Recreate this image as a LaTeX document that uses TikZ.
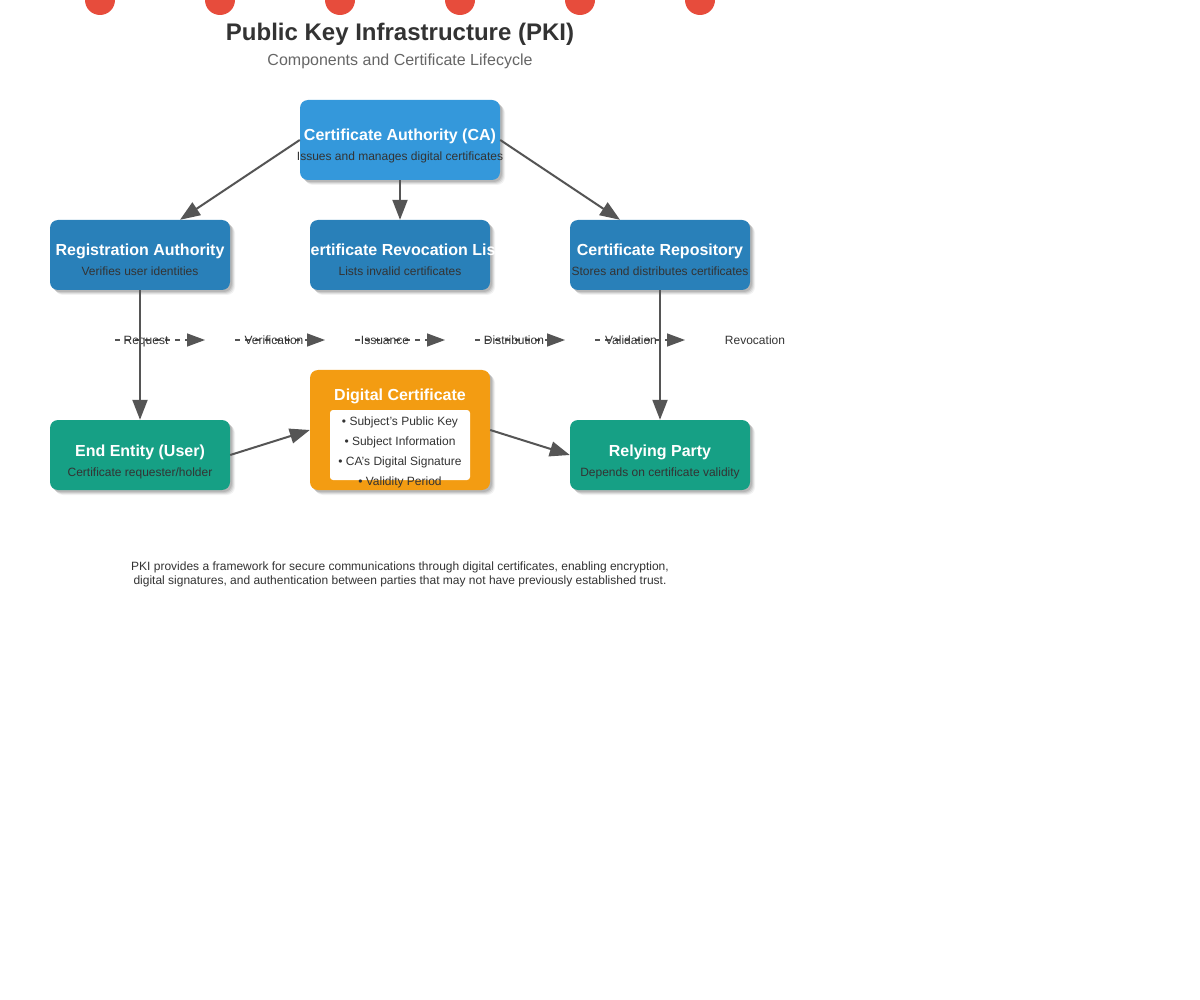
\documentclass[tikz,border=0pt]{standalone}
\usepackage{fontspec}
\setmainfont{Liberation Sans}
\usetikzlibrary{arrows.meta,shadows}
\definecolor{caBlue}{HTML}{3498DB}
\definecolor{compBlue}{HTML}{2980B9}
\definecolor{teal}{HTML}{16A085}
\definecolor{certOrange}{HTML}{F39C12}
\definecolor{dotRed}{HTML}{E74C3C}
\definecolor{arrowGray}{HTML}{555555}
\definecolor{darkText}{HTML}{333333}
\definecolor{midText}{HTML}{666666}
\begin{document}
\begin{tikzpicture}[x=1pt,y=-1pt,
  softshadow/.style={
    general shadow={shadow xshift=5pt, shadow yshift=-5pt, opacity=0.05, fill=black},
    general shadow={shadow xshift=4pt, shadow yshift=-4pt, opacity=0.07, fill=black},
    general shadow={shadow xshift=3pt, shadow yshift=-3pt, opacity=0.09, fill=black},
    general shadow={shadow xshift=2pt, shadow yshift=-2pt, opacity=0.10, fill=black}},
  box/.style={rounded corners=8pt, minimum width=180pt, minimum height=70pt, inner sep=0pt, softshadow},
  ttl/.style={font=\fontsize{16}{19}\selectfont\bfseries, text=white, anchor=base, inner sep=0pt},
  sub/.style={font=\fontsize{12}{14}\selectfont, text=darkText, anchor=base, inner sep=0pt},
  item/.style={font=\fontsize{12}{14}\selectfont, text=darkText, anchor=base, inner sep=0pt},
  lbl/.style={font=\fontsize{12}{14}\selectfont, text=darkText, anchor=base, inner sep=0pt},
  conn/.style={draw=arrowGray, line width=2pt, -{Triangle[length=20pt,width=15pt]}},
  life/.style={draw=arrowGray, line width=1.5pt, dash pattern=on 5pt off 5pt, -{Triangle[length=18pt,width=13pt]}},
  dot/.style={fill=dotRed, draw=none}]
\useasboundingbox (0,0) rectangle (1200,1000);
\fill[white] (0,0) rectangle (1200,1000);

% red dots
\foreach \i/\x in {1/100,2/220,3/340,4/460,5/580,6/700}{
  \fill[dot] (\x,0) circle (15pt);
}

% titles
\node[anchor=base, inner sep=0pt, font=\fontsize{24}{28}\selectfont\bfseries, text=darkText] (title) at (400,41) {Public Key Infrastructure (PKI)};
\node[anchor=base, inner sep=0pt, font=\fontsize{16}{19}\selectfont, text=midText] (subtitle) at (400,66) {Components and Certificate Lifecycle};

% boxes
\node[box, fill=caBlue, minimum width=200pt, minimum height=80pt] (ca) at (400,140) {};
\node[box, fill=compBlue] (ra) at (140,255) {};
\node[box, fill=compBlue] (crl) at (400,255) {};
\node[box, fill=compBlue] (repo) at (660,255) {};
\node[box, fill=teal] (ee) at (140,455) {};
\node[box, fill=certOrange, minimum height=120pt] (dc) at (400,430) {};
\node[box, fill=teal] (rp) at (660,455) {};
\node[fill=white, rounded corners=3pt, minimum width=140pt, minimum height=70pt, inner sep=0pt] (dcinner) at (400,445) {};

% box texts
\node[ttl] (catt) at (400,141) {Certificate Authority (CA)};
\node[sub] (cast) at (400,161) {Issues and manages digital certificates};
\node[ttl] (ratt) at (140,256) {Registration Authority};
\node[sub] (rast) at (140,276) {Verifies user identities};
\node[ttl] (crltt) at (400,256) {Certificate Revocation List};
\node[sub] (crlst) at (400,276) {Lists invalid certificates};
\node[ttl] (repott) at (660,256) {Certificate Repository};
\node[sub] (repost) at (660,276) {Stores and distributes certificates};
\node[ttl] (eett) at (140,456) {End Entity (User)};
\node[sub] (eest) at (140,476) {Certificate requester/holder};
\node[ttl] (rptt) at (660,456) {Relying Party};
\node[sub] (rpst) at (660,476) {Depends on certificate validity};
\node[ttl] (dctt) at (400,400) {Digital Certificate};
\node[item] (i1) at (400,425) {• Subject's Public Key};
\node[item] (i2) at (400,445) {• Subject Information};
\node[item] (i3) at (400,465) {• CA's Digital Signature};
\node[item] (i4) at (400,485) {• Validity Period};

% lifecycle
\coordinate (l1s) at (115,340); \coordinate (l1e) at (205,340);
\coordinate (l2s) at (235,340); \coordinate (l2e) at (325,340);
\coordinate (l3s) at (355,340); \coordinate (l3e) at (445,340);
\coordinate (l4s) at (475,340); \coordinate (l4e) at (565,340);
\coordinate (l5s) at (595,340); \coordinate (l5e) at (685,340);
\draw[life] (l1s) -- (l1e);
\draw[life] (l2s) -- (l2e);
\draw[life] (l3s) -- (l3e);
\draw[life] (l4s) -- (l4e);
\draw[life] (l5s) -- (l5e);
\node[lbl] (s1) at (146,345) {Request};
\node[lbl] (s2) at (274,345) {Verification};
\node[lbl] (s3) at (385,345) {Issuance};
\node[lbl] (s4) at (514,345) {Distribution};
\node[lbl] (s5) at (631,345) {Validation};
\node[lbl] (s6) at (755,345) {Revocation};

% connectors
\draw[conn] (ca.west) -- ([xshift=40pt]ra.north);
\draw[conn] (ca.south) -- (crl.north);
\draw[conn] (ca.east) -- ([xshift=-40pt]repo.north);
\draw[conn] (ra.south) -- (ee.north);
\draw[conn] (repo.south) -- (rp.north);
\draw[conn] (ee.east) -- (dc.west);
\draw[conn] (dc.east) -- (rp.west);

% footer
\node[sub] (f1) at (400,570) {PKI provides a framework for secure communications through digital certificates, enabling encryption,};
\node[sub] (f2) at (400,584) {digital signatures, and authentication between parties that may not have previously established trust.};
\end{tikzpicture}
\end{document}
